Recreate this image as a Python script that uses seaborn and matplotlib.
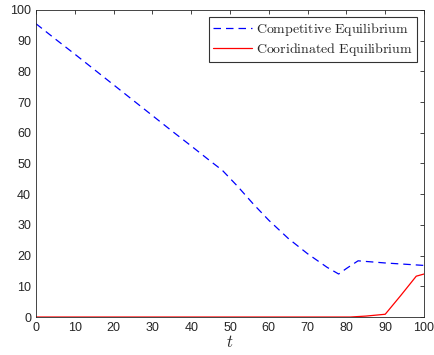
import numpy as np
import pandas as pd
import matplotlib
matplotlib.use("Agg")
import matplotlib.pyplot as plt
import seaborn as sns

t_comp = [0, 5, 10, 15, 20, 25, 30, 35, 40, 45, 48, 52, 56, 60, 65, 70, 75, 78, 80, 83, 86, 90, 95, 100]
v_comp = [95.5, 90.5, 85.6, 80.6, 75.6, 70.6, 65.6, 60.6, 55.7, 50.7, 47.8, 42.5, 36.8, 31.5, 25.6, 20.6, 16.2, 14.0, 15.8, 18.3, 18.0, 17.6, 17.2, 16.8]
t_coord = [0, 80, 81, 85, 90, 94, 98, 100]
v_coord = [0, 0, 0, 0.3, 0.9, 7.0, 13.3, 14.0]
label_comp = r"$\mathrm{Competitive\ Equilibrium}$"
label_coord = r"$\mathrm{Cooridinated\ Equilibrium}$"

df = pd.concat([
    pd.DataFrame({"t": t_comp, "v": v_comp, "series": label_comp}),
    pd.DataFrame({"t": t_coord, "v": v_coord, "series": label_coord}),
])

sns.set_style("white")
plt.rcParams["mathtext.fontset"] = "cm"
plt.rcParams["font.family"] = ["Liberation Sans", "DejaVu Sans"]

fig = plt.figure(figsize=(4.34, 3.55), dpi=100)
ax = fig.add_axes([0.083, 0.107, 0.894, 0.865])

sns.lineplot(data=df, x="t", y="v", hue="series", style="series",
             palette=["#0000ff", "#ff0000"],
             dashes=[(6, 4), ""], linewidth=0.9, ax=ax, sort=False)

ax.set_xlim(0, 100)
ax.set_ylim(0, 100)
ax.set_xticks(range(0, 101, 10))
ax.set_yticks(range(0, 101, 10))
ax.tick_params(direction="in", length=3, labelsize=9, colors="#262626",
               top=True, right=True, width=0.6)
for s in ax.spines.values():
    s.set_color("#262626")
    s.set_linewidth(0.6)
ax.set_xlabel("$t$", fontsize=12, labelpad=0)
ax.set_ylabel("")
leg = ax.legend(loc="upper right", fontsize=10, frameon=True, fancybox=False,
                edgecolor="black", borderpad=0.3, handlelength=2.8,
                handletextpad=0.3, labelspacing=0.2, borderaxespad=0.5)
leg.get_frame().set_linewidth(0.8)
fig.savefig("out.png", dpi=100)
